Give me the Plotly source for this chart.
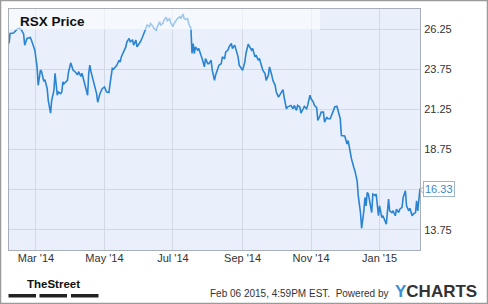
import plotly.graph_objects as go

dates = [
"2014-02-05","2014-02-06","2014-02-09","2014-02-10","2014-02-12","2014-02-14","2014-02-16","2014-02-18","2014-02-19","2014-02-21","2014-02-24","2014-02-25","2014-02-27","2014-02-28",
"2014-03-02","2014-03-03","2014-03-05","2014-03-06","2014-03-08","2014-03-09","2014-03-11","2014-03-12","2014-03-14","2014-03-15","2014-03-17","2014-03-18","2014-03-20","2014-03-21","2014-03-23","2014-03-24","2014-03-25","2014-03-26","2014-03-29","2014-03-30",
"2014-04-01","2014-04-03","2014-04-05","2014-04-07","2014-04-08","2014-04-10","2014-04-11","2014-04-12","2014-04-14","2014-04-16","2014-04-17","2014-04-18","2014-04-19","2014-04-21","2014-04-22","2014-04-24","2014-04-25","2014-04-27","2014-04-29",
"2014-05-01","2014-05-03","2014-05-05","2014-05-06","2014-05-08","2014-05-09","2014-05-11","2014-05-12","2014-05-14","2014-05-15","2014-05-16","2014-05-18","2014-05-20","2014-05-21","2014-05-23","2014-05-24","2014-05-26","2014-05-27","2014-05-29","2014-05-30",
"2014-06-01","2014-06-02","2014-06-04","2014-06-05","2014-06-07","2014-06-08","2014-06-10","2014-06-11","2014-06-13","2014-06-14","2014-06-16","2014-06-17","2014-06-19","2014-06-20","2014-06-22","2014-06-23","2014-06-25","2014-06-26","2014-06-28","2014-06-29",
"2014-07-01","2014-07-02","2014-07-04","2014-07-05","2014-07-07","2014-07-08","2014-07-10","2014-07-11","2014-07-12","2014-07-14","2014-07-15","2014-07-17","2014-07-18","2014-07-19","2014-07-20","2014-07-21","2014-07-23","2014-07-24","2014-07-26","2014-07-27","2014-07-29","2014-07-30",
"2014-08-01","2014-08-02","2014-08-04","2014-08-05","2014-08-07","2014-08-08","2014-08-10","2014-08-11","2014-08-13","2014-08-14","2014-08-16","2014-08-17","2014-08-19","2014-08-20","2014-08-22","2014-08-23","2014-08-25","2014-08-26","2014-08-28","2014-08-29","2014-08-31",
"2014-09-01","2014-09-03","2014-09-04","2014-09-06","2014-09-07","2014-09-09","2014-09-10","2014-09-12","2014-09-13","2014-09-15","2014-09-16","2014-09-18","2014-09-19","2014-09-21","2014-09-22","2014-09-24","2014-09-25","2014-09-27","2014-09-28","2014-09-30",
"2014-10-01","2014-10-03","2014-10-04","2014-10-06","2014-10-07","2014-10-08","2014-10-10","2014-10-11","2014-10-13","2014-10-14","2014-10-16","2014-10-17","2014-10-19","2014-10-20","2014-10-22","2014-10-23","2014-10-25","2014-10-26","2014-10-28","2014-10-29","2014-10-31",
"2014-11-01","2014-11-03","2014-11-04","2014-11-06","2014-11-07","2014-11-09","2014-11-10","2014-11-12","2014-11-13","2014-11-15","2014-11-16","2014-11-18","2014-11-19","2014-11-21","2014-11-22","2014-11-24","2014-11-27","2014-11-28",
"2014-12-01","2014-12-03","2014-12-04","2014-12-05","2014-12-06","2014-12-07","2014-12-09","2014-12-10","2014-12-12","2014-12-13","2014-12-15","2014-12-16","2014-12-18","2014-12-19","2014-12-20","2014-12-21","2014-12-22","2014-12-23","2014-12-25","2014-12-26","2014-12-28","2014-12-29","2014-12-31",
"2015-01-01","2015-01-03","2015-01-04","2015-01-06","2015-01-07","2015-01-09","2015-01-10","2015-01-12","2015-01-13","2015-01-15","2015-01-16","2015-01-18","2015-01-19","2015-01-21","2015-01-22","2015-01-24","2015-01-25","2015-01-27","2015-01-28","2015-01-30","2015-01-31",
"2015-02-02","2015-02-03","2015-02-04","2015-02-05","2015-02-06"]

prices = [
25.35,25.98,26.0,26.1,26.23,26.3,26.2,25.95,25.25,25.67,25.73,25.56,25.15,24.94,
23.9,22.75,23.7,23.6,23.0,23.1,22.54,21.8,21.02,21.8,22.44,23.5,22.13,22.33,22.23,22.33,22.96,22.85,23.06,23.58,
24.15,23.7,23.58,23.4,23.6,23.3,23.5,23.2,22.75,22.13,23.5,24.0,23.6,23.1,22.85,22.23,21.7,22.23,22.54,
22.65,22.33,22.3,22.85,23.8,23.75,23.9,24.0,24.31,24.2,24.52,24.83,25.14,25.46,25.67,25.46,25.56,25.25,25.56,25.14,
25.35,25.46,25.77,25.98,26.4,26.5,26.4,26.6,26.44,26.29,26.2,26.4,26.7,26.5,26.6,26.81,26.98,26.77,26.9,26.63,
26.4,26.6,26.85,26.9,27.02,26.9,27.19,26.9,26.85,26.9,26.6,26.29,24.73,25.35,24.73,25.14,24.94,25.04,24.6,24.42,23.9,24.42,
24.1,24.1,24.31,23.69,23.06,23.4,23.8,24.0,24.1,24.52,24.4,24.83,24.94,25.14,25.35,25.04,25.25,25.04,24.52,24.0,23.79,
23.69,24.2,24.73,25.31,25.2,24.94,25.04,24.52,24.63,24.31,24.42,23.9,23.69,23.48,23.06,23.38,23.9,23.38,23.06,22.75,
22.33,22.02,22.13,22.33,22.48,22.02,21.29,21.4,21.44,21.5,21.29,21.5,21.19,21.5,21.4,21.02,21.29,21.44,21.29,21.5,22.13,
21.92,21.71,21.5,21.35,20.56,20.88,21.08,21.08,20.46,20.77,20.67,20.67,20.81,21.19,21.4,21.44,20.67,19.63,
19.6,19.1,19.31,18.9,18.58,18.17,17.65,17.44,16.81,15.88,14.83,13.85,14.94,15.77,15.25,16.08,16.0,15.67,14.83,15.98,15.9,15.98,14.63,
15.25,14.52,14.63,14.31,14.1,15.67,14.94,14.83,14.94,14.63,15.04,14.83,15.04,15.15,15.77,16.19,15.25,14.94,15.1,14.63,14.73,
14.83,15.56,14.94,15.77,16.33]

y_ticks = [13.75, 16.25, 18.75, 21.25, 23.75, 26.25]
y_tick_text = ["13.75", "", "18.75", "21.25", "23.75", "26.25"]
x_ticks = ["2014-03-01", "2014-05-01", "2014-07-01", "2014-09-01", "2014-11-01", "2015-01-01"]
x_tick_text = ["Mar '14", "May '14", "Jul '14", "Sep '14", "Nov '14", "Jan '15"]
last_label = "16.33"

W, H = 488, 304
L, R, T, B = 9, 68, 9, 54
pw, ph = W - L - R, H - T - B

def px(x):
    return (x - L) / pw

def py(y):
    return (H - B - y) / ph

fig = go.Figure()
fig.add_trace(go.Scatter(x=dates, y=prices, mode="lines",
                         line=dict(color="#2a84d2", width=1.6), hoverinfo="skip"))

font = "Liberation Sans, Arial, sans-serif"
fig.update_layout(
    width=W, height=H,
    margin=dict(l=L, r=R, t=T, b=B),
    paper_bgcolor="white",
    plot_bgcolor="#e9f0fb",
    showlegend=False,
    font=dict(family=font, size=11, color="#333333"),
    xaxis=dict(range=["2014-02-05", "2015-02-06"], tickvals=x_ticks, ticktext=x_tick_text,
               showgrid=True, gridcolor="#d2d9e4", gridwidth=1,
               showline=True, linecolor="#a9afb8", linewidth=1, mirror=True,
               ticks="", tickfont=dict(size=11, color="#333333"), ticklabelstandoff=-2,
               zeroline=False),
    yaxis=dict(range=[12.5, 27.5], side="right", tickvals=y_ticks, ticktext=y_tick_text,
               showgrid=True, gridcolor="#d2d9e4", gridwidth=1,
               showline=True, linecolor="#a9afb8", linewidth=1, mirror=True,
               ticks="", tickfont=dict(size=11, color="#333333"), ticklabelstandoff=1,
               zeroline=False),
)

shapes = [
    # translucent title band
    dict(type="rect", xref="paper", yref="paper", x0=0, x1=px(320), y0=py(30), y1=1,
         fillcolor="rgba(255,255,255,0.55)", line=dict(width=0), layer="above"),
    # outer border
    dict(type="rect", xref="paper", yref="paper", x0=px(0.5), x1=px(487.5), y0=py(303.5), y1=py(0.5),
         line=dict(color="#9a9a9a", width=1.5), fillcolor="rgba(0,0,0,0)", layer="above"),
    # TheStreet bars
    dict(type="rect", xref="paper", yref="paper", x0=px(8.5), x1=px(36), y0=py(297.5), y1=py(294),
         fillcolor="#222222", line=dict(width=0)),
    dict(type="rect", xref="paper", yref="paper", x0=px(39.5), x1=px(67), y0=py(297.5), y1=py(294),
         fillcolor="#222222", line=dict(width=0)),
    dict(type="rect", xref="paper", yref="paper", x0=px(71), x1=px(98.5), y0=py(297.5), y1=py(294),
         fillcolor="#222222", line=dict(width=0)),
    # callout pointer
    dict(type="path", xref="paper", yref="paper",
         path=f"M {px(423.5)} {py(186.5)} L {px(420.5)} {py(190)} L {px(423.5)} {py(193.5)} Z",
         fillcolor="white", line=dict(color="#9fb4c8", width=1), layer="above"),
]
fig.update_layout(shapes=shapes)

fig.add_annotation(x=px(18), y=py(21), xref="paper", yref="paper", xanchor="left", yanchor="middle",
                   text="<b>RSX Price</b>", showarrow=False,
                   font=dict(family=font, size=13.5, color="#111111"))
fig.add_annotation(x=dates[-1], y=prices[-1], xref="x", yref="y", xanchor="left", yanchor="middle",
                   xshift=3, yshift=-1, text=last_label, showarrow=False,
                   bgcolor="white", bordercolor="#9fb4c8", borderwidth=1, borderpad=1,
                   font=dict(family=font, size=11, color="#3b88c8"))
fig.add_annotation(x=px(53.5), y=py(284), xref="paper", yref="paper", xanchor="center", yanchor="middle",
                   text="<b>TheStreet</b>", showarrow=False,
                   font=dict(family=font, size=11.5, color="#111111"))
fig.add_annotation(x=px(390), y=py(293), xref="paper", yref="paper", xanchor="right", yanchor="middle",
                   text="Feb 06 2015, 4:59PM EST.  Powered by", showarrow=False,
                   font=dict(family=font, size=10, color="#333333"))
fig.add_annotation(x=px(393), y=py(291.5), xref="paper", yref="paper", xanchor="left", yanchor="middle",
                   text="<b><span style='color:#3d8fd6'>Y</span>CHARTS</b>", showarrow=False,
                   font=dict(family=font, size=17, color="#333333"))

fig.write_html("out.html")
